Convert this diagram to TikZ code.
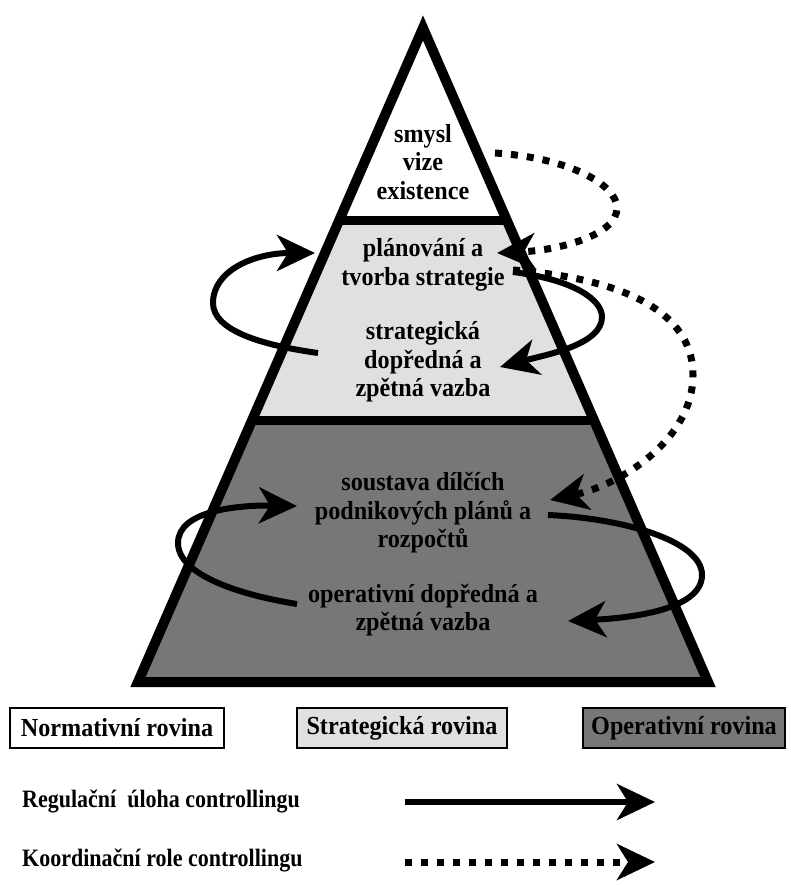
\documentclass[tikz,border=0pt]{standalone}
\usepackage{fontspec}
\setmainfont{Liberation Serif}
\newfontfamily\pyrfont[FakeStretch=0.93]{Liberation Serif}
\newfontfamily\legfont[FakeStretch=0.88]{Liberation Serif}
\usetikzlibrary{arrows.meta,calc}
\definecolor{strat}{HTML}{E0E0E0}
\definecolor{oper}{HTML}{777777}
\begin{document}
\begin{tikzpicture}[x=1pt,y=-1pt,
    lvl/.style={font=\pyrfont\bfseries\fontsize{26}{28.5}\selectfont, align=center, inner sep=0pt},
    legbox/.style={draw, line width=1.2pt, minimum height=40pt, inner sep=0pt, font=\pyrfont\bfseries\fontsize{26}{28}\selectfont},
    legtext/.style={anchor=west, inner sep=0pt, font=\legfont\bfseries\fontsize{25}{28}\selectfont},
    reg/.style={line width=6pt, -{Stealth[length=38pt,width=36pt,inset=11pt]}},
    koord/.style={line width=7pt, dash pattern=on 7pt off 9pt, -{Stealth[length=38pt,width=36pt,inset=11pt]}}]
    \useasboundingbox (0,0) rectangle (790,885);
            \coordinate (apex) at (423,28);
            \coordinate (bl) at (138,682);
            \coordinate (br) at (708,682);
            \coordinate (l1) at ($(apex)!0.2936!(bl)$);
            \coordinate (r1) at ($(apex)!0.2936!(br)$);
            \coordinate (l2) at ($(apex)!0.6009!(bl)$);
            \coordinate (r2) at ($(apex)!0.6009!(br)$);
            \fill [strat] (l1)--(r1)--(r2)--(l2)--cycle;
            \fill [oper] (l2)--(r2)--(br)--(bl)--cycle;
            \draw [line width=9pt] (l1)--(r1);
            \draw [line width=9pt] (l2)--(r2);
            \draw [line width=10pt] (apex)--(br)--(bl)--cycle;
            \node [lvl] (norm) at (423,162) {smysl\\vize\\existence};
            \node [lvl] (plan) at (423,265) {plánování a\\tvorba strategie};
            \node [lvl] (sfb) at (423,362) {strategická\\dopředná a\\zpětná vazba};
            \node [lvl] (plany) at (423,513) {soustava dílčích\\podnikových plánů a\\rozpočtů};
            \node [lvl] (ofb) at (423,610) {operativní dopředná a\\zpětná vazba};
            \coordinate (sA) at (318,353);
            \coordinate (sB) at (315,253);
            \coordinate (sC) at (513,272);
            \coordinate (sD) at (500,367);
            \coordinate (oA) at (297,604);
            \coordinate (oB) at (297,506);
            \coordinate (oC) at (548,515);
            \coordinate (oD) at (568,621);
            \coordinate (nA) at (495,153);
            \coordinate (nB) at (497,253);
            \coordinate (kA) at (513,270);
            \coordinate (kB) at (550,500);
            \draw [reg] (sA) .. controls (260,345) and (213,330) .. (213,303) .. controls (213,270) and (255,253) .. (sB);
            \draw [reg] (sC) .. controls (575,280) and (602,300) .. (602,317) .. controls (602,345) and (545,355) .. (sD);
            \draw [reg] (oA) .. controls (240,595) and (178,575) .. (178,543) .. controls (178,510) and (240,505) .. (oB);
            \draw [reg] (oC) .. controls (620,518) and (702,540) .. (702,575) .. controls (702,610) and (630,618) .. (oD);
            \draw [koord] (nA) .. controls (570,158) and (617,185) .. (617,208) .. controls (617,235) and (560,250) .. (nB);
            \draw [koord] (kA) .. controls (640,280) and (693,320) .. (693,375) .. controls (693,440) and (620,485) .. (kB);
            \node [legbox, fill=white, minimum width=214pt] (lnorm) at (117,728) {Normativní rovina};
            \node [legbox, fill=strat, minimum width=210pt] (lstrat) at (402,728) {Strategická rovina};
            \node [legbox, fill=oper, minimum width=202pt] (loper) at (684,728) {Operativní rovina};
            \node [legtext] (lreg) at (22,801) {Regulační\ \ úloha controllingu};
            \node [legtext] (lkoord) at (22,860) {Koordinační role controllingu};
            \coordinate (regA) at (405,802);
            \coordinate (regB) at (655,802);
            \coordinate (koA) at (405,862);
            \coordinate (koB) at (655,862);
            \draw [reg] (regA) -- (regB);
            \draw [koord] (koA) -- (koB);
        \end{tikzpicture}
\end{document}
